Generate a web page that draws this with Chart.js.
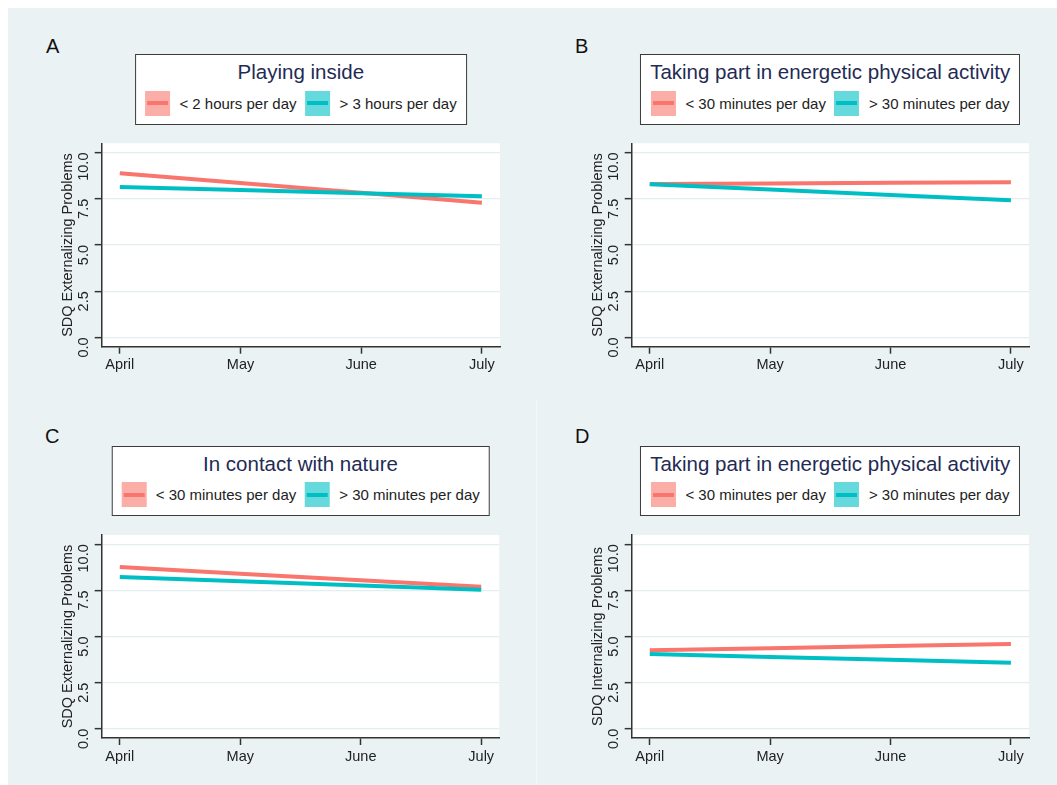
<!DOCTYPE html>
<html>
<head>
<meta charset="utf-8">
<script src="https://cdn.jsdelivr.net/npm/chart.js"></script>
<style>
  html, body { margin:0; padding:0; background:#ffffff; }
  body { width:1057px; height:785px; position:relative; overflow:hidden; font-family:"Liberation Sans", Arial, Helvetica, sans-serif; }
  #bg { position:absolute; left:8px; top:8px; width:1049px; height:777px; background:#EAF2F3; }
  #sep { position:absolute; left:536px; top:400px; width:1px; height:385px; background:#F3F8F9; }
  canvas { position:absolute; }
  .letter { position:absolute; font-size:20px; line-height:20px; color:#111; }
  .lg { position:absolute; transform:translateX(-50%); background:#fff; border:1.5px solid #3b3b3b; padding:5px 9px 7.5px; white-space:nowrap; text-align:center; }
  .lt { font-size:20.5px; line-height:24px; color:#1f2b55; }
  .li { display:flex; justify-content:center; align-items:center; margin-top:6px; height:26px; }
  .sw { width:25px; height:25px; position:relative; margin-right:9.5px; flex:none; }
  .sw i { position:absolute; left:2px; right:2px; top:10.5px; height:4px; }
  .tx { font-size:15px; color:#222; margin-right:8.5px; }
  .tx:last-child { margin-right:0; }
</style>
</head>
<body>
<div id="bg"></div>
<div id="sep"></div>
<script>
// ---- data ----
const months = ['April', 'May', 'June', 'July'];
const yTickValues = [0, 2.5, 5, 7.5, 10];
const panelLetters = ['A', 'B', 'C', 'D'];
const legendTitles = ['Playing inside', 'Taking part in energetic physical activity', 'In contact with nature', 'Taking part in energetic physical activity'];
const yTitles = ['SDQ Externalizing Problems', 'SDQ Externalizing Problems', 'SDQ Externalizing Problems', 'SDQ Internalizing Problems'];
const lowLabels = ['< 2 hours per day', '< 30 minutes per day', '< 30 minutes per day', '< 30 minutes per day'];
const highLabels = ['> 3 hours per day', '> 30 minutes per day', '> 30 minutes per day', '> 30 minutes per day'];
const seriesA_low  = [8.88, 8.35, 7.82, 7.29];
const seriesA_high = [8.14, 7.97, 7.80, 7.64];
const seriesB_low  = [8.30, 8.33, 8.37, 8.40];
const seriesB_high = [8.29, 8.00, 7.71, 7.42];
const seriesC_low  = [8.76, 8.40, 8.05, 7.69];
const seriesC_high = [8.22, 7.99, 7.76, 7.53];
const seriesD_low  = [4.25, 4.36, 4.48, 4.59];
const seriesD_high = [4.05, 3.89, 3.74, 3.58];

// ---- styling ----
const FONT = '"Liberation Sans", Arial, Helvetica, sans-serif';
const RED = '#F8766D', TEAL = '#00BFC4';
const RED_KEY = 'rgba(248,118,109,0.6)', TEAL_KEY = 'rgba(0,191,196,0.6)';
const AXIS = '#333333', TXT = '#222222';

const panels = [
  { low: seriesA_low, high: seriesA_high, canvas:{left:8,   top:130, w:529, h:270}, pad:{left:50, top:13.3, right:37,   bottom:13.3}, legend:{cx:300.8, top:54.3},  letter:{left:46, top:35.8} },
  { low: seriesB_low, high: seriesB_high, canvas:{left:538, top:130, w:519, h:270}, pad:{left:50, top:13.3, right:28,   bottom:13.3}, legend:{cx:830.2, top:54.3},  letter:{left:575, top:35.8} },
  { low: seriesC_low, high: seriesC_high, canvas:{left:8,   top:520, w:529, h:265}, pad:{left:50, top:15,   right:37.7, bottom:7},    legend:{cx:300.5, top:445.7}, letter:{left:45, top:426.4} },
  { low: seriesD_low, high: seriesD_high, canvas:{left:538, top:520, w:519, h:265}, pad:{left:50, top:15,   right:28,   bottom:7},    legend:{cx:830.2, top:445.7}, letter:{left:575, top:426.4} }
];

const plotBg = {
  id: 'plotBg',
  beforeDraw(chart) {
    const a = chart.chartArea, ctx = chart.ctx;
    ctx.save();
    ctx.fillStyle = '#ffffff';
    ctx.fillRect(a.left, a.top, a.right - a.left, a.bottom - a.top);
    ctx.restore();
  }
};

function esc(s) { return s.replace(/&/g,'&amp;').replace(/</g,'&lt;').replace(/>/g,'&gt;'); }

panels.forEach((p, k) => {
  const L = document.createElement('div');
  L.className = 'letter';
  L.style.left = p.letter.left + 'px';
  L.style.top = p.letter.top + 'px';
  L.textContent = panelLetters[k];
  document.body.appendChild(L);

  const lg = document.createElement('div');
  lg.className = 'lg';
  lg.style.left = p.legend.cx + 'px';
  lg.style.top = p.legend.top + 'px';
  lg.innerHTML =
    '<div class="lt">' + esc(legendTitles[k]) + '</div>' +
    '<div class="li">' +
      '<span class="sw" style="background:' + RED_KEY + '"><i style="background:' + RED + '"></i></span>' +
      '<span class="tx">' + esc(lowLabels[k]) + '</span>' +
      '<span class="sw" style="background:' + TEAL_KEY + '"><i style="background:' + TEAL + '"></i></span>' +
      '<span class="tx">' + esc(highLabels[k]) + '</span>' +
    '</div>';
  document.body.appendChild(lg);

  const cv = document.createElement('canvas');
  cv.width = p.canvas.w; cv.height = p.canvas.h;
  cv.style.left = p.canvas.left + 'px';
  cv.style.top = p.canvas.top + 'px';
  cv.style.width = p.canvas.w + 'px';
  cv.style.height = p.canvas.h + 'px';
  document.body.appendChild(cv);

  new Chart(cv.getContext('2d'), {
    type: 'line',
    data: {
      datasets: [
        { label: lowLabels[k], data: p.low.map((v, i) => ({ x: i, y: v })), borderColor: RED, backgroundColor: RED, borderWidth: 4, pointRadius: 0, tension: 0, order: 1, borderCapStyle: 'butt' },
        { label: highLabels[k], data: p.high.map((v, i) => ({ x: i, y: v })), borderColor: TEAL, backgroundColor: TEAL, borderWidth: 4, pointRadius: 0, tension: 0, order: 0, borderCapStyle: 'butt' }
      ]
    },
    options: {
      responsive: false,
      animation: false,
      devicePixelRatio: 1,
      layout: { padding: p.pad },
      plugins: { legend: { display: false }, tooltip: { enabled: false }, title: { display: false } },
      scales: {
        x: {
          type: 'linear', min: -0.15, max: 3.15,
          afterBuildTicks: s => { s.ticks = months.map((m, i) => ({ value: i })); },
          ticks: { callback: v => months[v], font: { size: 14.5, family: FONT }, color: TXT, padding: 3, maxRotation: 0, autoSkip: false },
          grid: { drawOnChartArea: false, tickLength: 7, tickColor: AXIS, tickWidth: 1.5 },
          border: { color: AXIS, width: 1.5 },
          afterFit: s => { s.height = 40; s.paddingLeft = 0; s.paddingRight = 0; }
        },
        y: {
          type: 'linear', min: -0.5, max: 10.5,
          afterBuildTicks: s => { s.ticks = yTickValues.map(v => ({ value: v })); },
          ticks: { callback: v => Number(v).toFixed(1), minRotation: 90, maxRotation: 90, padding: 10.7, font: { size: 14.5, family: FONT }, color: TXT, crossAlign: 'near' },
          grid: { color: '#E4EDEF', lineWidth: 1.3, tickLength: 7, tickColor: AXIS, tickWidth: 1.5 },
          border: { color: AXIS, width: 1.5 },
          title: { display: true, text: yTitles[k], font: { size: 14.5, family: FONT }, color: TXT, padding: { top: 0.8, bottom: 0 } },
          afterFit: s => { s.width = 43.7; s.paddingTop = 0; s.paddingBottom = 0; }
        }
      }
    },
    plugins: [plotBg]
  });
});
</script>
</body>
</html>
